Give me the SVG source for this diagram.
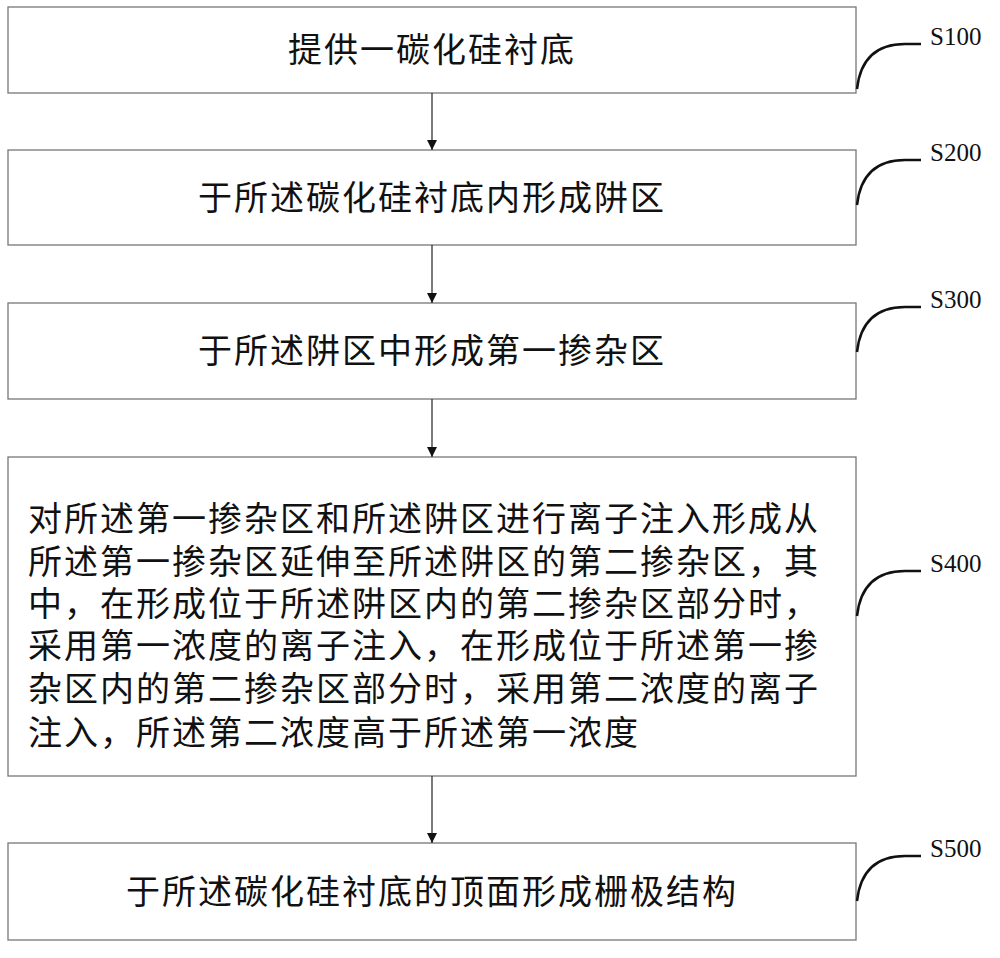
<svg xmlns="http://www.w3.org/2000/svg" width="1000" height="958" viewBox="0 0 1000 958">
<defs>
<style>
.b{fill:#fff;stroke:#777;stroke-width:1.3}
.t{font-family:"Noto Sans CJK SC","Liberation Serif",serif;font-size:34px;letter-spacing:2px;fill:#111}
.s{font-family:"Liberation Serif",serif;font-size:25px;fill:#111}
.c{fill:none;stroke:#111;stroke-width:2.5}
.a{stroke:#333;stroke-width:1.3;marker-end:url(#m)}
</style>
<marker id="m" viewBox="0 0 10 10" refX="10" refY="5" markerWidth="10" markerHeight="10" markerUnits="userSpaceOnUse" orient="auto"><path d="M0,0L10,5L0,10z" fill="#111"/></marker>
</defs>
<rect width="1000" height="958" fill="#fff"/>
<g id="n1"><rect class="b" x="8" y="7" width="848" height="86"/><text class="t" x="432" y="62" text-anchor="middle">提供一碳化硅衬底</text></g>
<g id="n2"><rect class="b" x="8" y="150" width="848" height="95"/><text class="t" x="432" y="210" text-anchor="middle">于所述碳化硅衬底内形成阱区</text></g>
<g id="n3"><rect class="b" x="8" y="303" width="848" height="96"/><text class="t" x="432" y="363" text-anchor="middle">于所述阱区中形成第一掺杂区</text></g>
<g id="n4"><rect class="b" x="8" y="457" width="848" height="319"/>
<text class="t" x="28" y="531">对所述第一掺杂区和所述阱区进行离子注入形成从</text>
<text class="t" x="28" y="574">所述第一掺杂区延伸至所述阱区的第二掺杂区，其</text>
<text class="t" x="28" y="616">中，在形成位于所述阱区内的第二掺杂区部分时，</text>
<text class="t" x="28" y="658">采用第一浓度的离子注入，在形成位于所述第一掺</text>
<text class="t" x="28" y="701">杂区内的第二掺杂区部分时，采用第二浓度的离子</text>
<text class="t" x="28" y="745">注入，所述第二浓度高于所述第一浓度</text></g>
<g id="n5"><rect class="b" x="8" y="843" width="848" height="97"/><text class="t" x="432" y="904" text-anchor="middle">于所述碳化硅衬底的顶面形成栅极结构</text></g>
<g id="connectors">
<line class="a" x1="432" y1="93" x2="432" y2="150"/>
<line class="a" x1="432" y1="245" x2="432" y2="303"/>
<line class="a" x1="432" y1="399" x2="432" y2="457"/>
<line class="a" x1="432" y1="776" x2="432" y2="843"/>
</g>
<g id="labels">
<path class="c" d="M857,89 Q862,44 905,44 H921"/><text class="s" x="930" y="45">S100</text>
<path class="c" d="M857,205 Q862,160 905,160 H921"/><text class="s" x="930" y="161">S200</text>
<path class="c" d="M857,352 Q862,307 905,307 H921"/><text class="s" x="930" y="308">S300</text>
<path class="c" d="M857,616 Q862,571 905,571 H921"/><text class="s" x="930" y="572">S400</text>
<path class="c" d="M857,901 Q862,856 905,856 H921"/><text class="s" x="930" y="857">S500</text>
</g>
</svg>
